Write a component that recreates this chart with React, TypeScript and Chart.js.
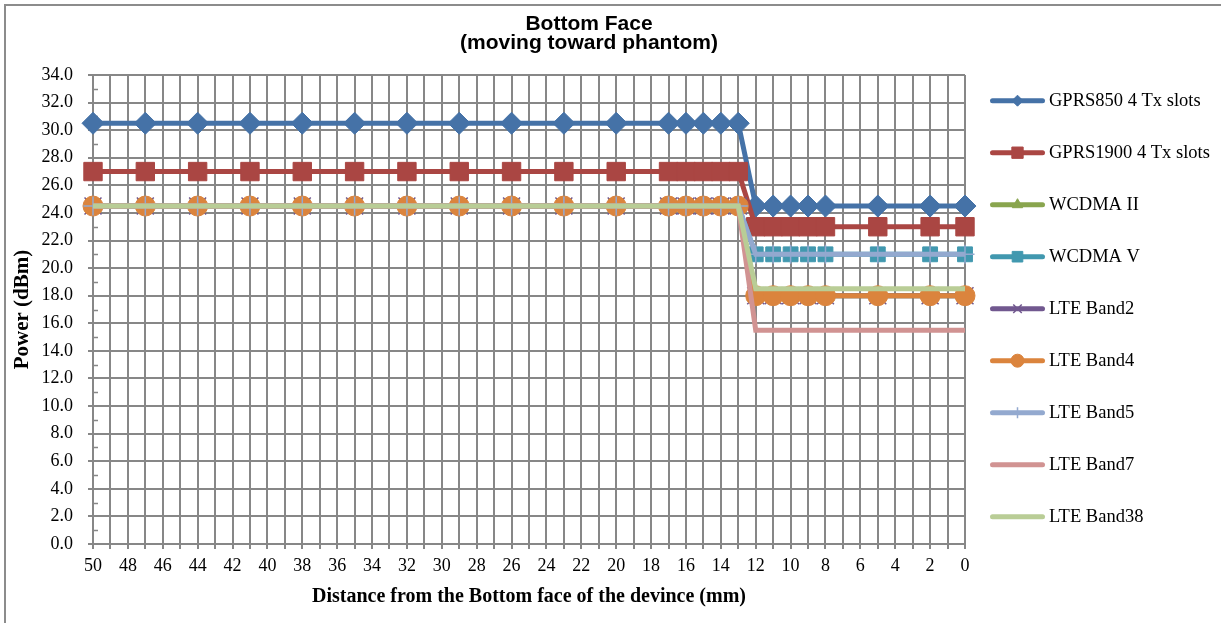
import React, { useEffect, useRef } from "react";
import { Chart, registerables } from "chart.js";
import { drawPoint } from "chart.js/helpers";

Chart.register(...registerables);

// ---------- data ----------
const distances = [50, 47, 44, 41, 38, 35, 32, 29, 26, 23, 20, 17, 16, 15, 14, 13, 12, 11, 10, 9, 8, 5, 2, 0];

const gprs850 = [30.5, 30.5, 30.5, 30.5, 30.5, 30.5, 30.5, 30.5, 30.5, 30.5, 30.5, 30.5, 30.5, 30.5, 30.5, 30.5, 24.5, 24.5, 24.5, 24.5, 24.5, 24.5, 24.5, 24.5];
const gprs1900 = [27.0, 27.0, 27.0, 27.0, 27.0, 27.0, 27.0, 27.0, 27.0, 27.0, 27.0, 27.0, 27.0, 27.0, 27.0, 27.0, 23.0, 23.0, 23.0, 23.0, 23.0, 23.0, 23.0, 23.0];
const wcdmaII = [24.5, 24.5, 24.5, 24.5, 24.5, 24.5, 24.5, 24.5, 24.5, 24.5, 24.5, 24.5, 24.5, 24.5, 24.5, 24.5, 18.0, 18.0, 18.0, 18.0, 18.0, 18.0, 18.0, 18.0];
const wcdmaV = [24.5, 24.5, 24.5, 24.5, 24.5, 24.5, 24.5, 24.5, 24.5, 24.5, 24.5, 24.5, 24.5, 24.5, 24.5, 24.5, 21.0, 21.0, 21.0, 21.0, 21.0, 21.0, 21.0, 21.0];
const lteBand2 = [24.5, 24.5, 24.5, 24.5, 24.5, 24.5, 24.5, 24.5, 24.5, 24.5, 24.5, 24.5, 24.5, 24.5, 24.5, 24.5, 18.0, 18.0, 18.0, 18.0, 18.0, 18.0, 18.0, 18.0];
const lteBand4 = [24.5, 24.5, 24.5, 24.5, 24.5, 24.5, 24.5, 24.5, 24.5, 24.5, 24.5, 24.5, 24.5, 24.5, 24.5, 24.5, 18.0, 18.0, 18.0, 18.0, 18.0, 18.0, 18.0, 18.0];
const lteBand5 = [24.5, 24.5, 24.5, 24.5, 24.5, 24.5, 24.5, 24.5, 24.5, 24.5, 24.5, 24.5, 24.5, 24.5, 24.5, 24.5, 21.0, 21.0, 21.0, 21.0, 21.0, 21.0, 21.0, 21.0];
const lteBand7 = [24.5, 24.5, 24.5, 24.5, 24.5, 24.5, 24.5, 24.5, 24.5, 24.5, 24.5, 24.5, 24.5, 24.5, 24.5, 24.5, 15.5, 15.5, 15.5, 15.5, 15.5, 15.5, 15.5, 15.5];
const lteBand38 = [24.5, 24.5, 24.5, 24.5, 24.5, 24.5, 24.5, 24.5, 24.5, 24.5, 24.5, 24.5, 24.5, 24.5, 24.5, 24.5, 18.5, 18.5, 18.5, 18.5, 18.5, 18.5, 18.5, 18.5];

const seriesLabels = [
  "GPRS850 4 Tx slots",
  "GPRS1900 4 Tx slots",
  "WCDMA II",
  "WCDMA V",
  "LTE Band2",
  "LTE Band4",
  "LTE Band5",
  "LTE Band7",
  "LTE Band38",
];
const seriesValues = [gprs850, gprs1900, wcdmaII, wcdmaV, lteBand2, lteBand4, lteBand5, lteBand7, lteBand38];

const titleLines = ["Bottom Face", "(moving toward phantom)"];
const xTitle = "Distance from the Bottom face of the devince (mm)";
const yTitle = "Power (dBm)";

// ---------- styles ----------
type Style = { color: string; point: string | false; radius: number; legendRadius: number; bw: number; fill: boolean };
const seriesStyles: Style[] = [
  { color: "#4572A7", point: "rectRot", radius: 11, legendRadius: 5.5, bw: 1, fill: true },
  { color: "#AA4643", point: "rect", radius: 13, legendRadius: 8, bw: 1, fill: true },
  { color: "#89A54E", point: "triangle", radius: 10, legendRadius: 6, bw: 1, fill: true },
  { color: "#4198AF", point: "rect", radius: 10.5, legendRadius: 7.5, bw: 1, fill: true },
  { color: "#71588F", point: "crossRot", radius: 12, legendRadius: 6, bw: 1.5, fill: false },
  { color: "#DB843D", point: "circle", radius: 10, legendRadius: 6.5, bw: 1, fill: true },
  { color: "#93A9CF", point: "cross", radius: 9.5, legendRadius: 5.5, bw: 1.5, fill: false },
  { color: "#D19392", point: false, radius: 0, legendRadius: 0, bw: 0, fill: false },
  { color: "#B9CD96", point: false, radius: 0, legendRadius: 0, bw: 0, fill: false },
];

const GRID = "#878787";
const SERIF = '"Liberation Serif", "Times New Roman", serif';
const SANS = '"Liberation Sans", Arial, sans-serif';
const W = 1221;
const H = 623;

Chart.defaults.font.family = SERIF;
Chart.defaults.color = "#000";

const decorPlugin = {
  id: "decor",
  beforeDraw(chart: any) {
    const ctx = chart.ctx;
    ctx.save();
    ctx.fillStyle = "#fff";
    ctx.fillRect(0, 0, chart.width, chart.height);
    ctx.strokeStyle = "#8c8c8c";
    ctx.lineWidth = 2;
    ctx.beginPath();
    ctx.moveTo(5, chart.height + 2);
    ctx.lineTo(5, 5);
    ctx.lineTo(chart.width + 2, 5);
    ctx.stroke();
    ctx.restore();
  },
  beforeDatasetsDraw(chart: any) {
    const ctx = chart.ctx;
    const y = chart.scales.y;
    const left = chart.chartArea.left;
    ctx.save();
    ctx.strokeStyle = GRID;
    ctx.lineWidth = 1.5;
    ctx.beginPath();
    for (let v = 1; v < 34; v += 2) {
      const py = Math.round(y.getPixelForValue(v)) + 0.5;
      ctx.moveTo(left, py);
      ctx.lineTo(left + 5, py);
    }
    ctx.stroke();
    ctx.restore();
  },
  afterDraw(chart: any) {
    const ctx = chart.ctx;
    ctx.save();
    // title
    ctx.fillStyle = "#000";
    ctx.font = `bold 21px ${SANS}`;
    ctx.textAlign = "center";
    ctx.textBaseline = "alphabetic";
    ctx.fillText(titleLines[0], 589, 30);
    ctx.fillText(titleLines[1], 589, 49);
    // legend
    const lx0 = chart.chartArea.right + 25;
    const lineLen = 55;
    const top = 100.7;
    const step = 52;
    seriesLabels.forEach((label, i) => {
      const st = seriesStyles[i];
      const yy = top + i * step;
      ctx.strokeStyle = st.color;
      ctx.lineWidth = 5;
      ctx.lineCap = "round";
      ctx.beginPath();
      ctx.moveTo(lx0 + 2.5, yy);
      ctx.lineTo(lx0 + lineLen - 2.5, yy);
      ctx.stroke();
      if (st.point) {
        ctx.fillStyle = st.color;
        ctx.strokeStyle = st.color;
        ctx.lineWidth = st.bw;
        ctx.lineCap = "butt";
        drawPoint(ctx, { pointStyle: st.point as any, radius: st.legendRadius, rotation: 0, borderWidth: st.bw }, lx0 + lineLen / 2, yy);
      }
      ctx.fillStyle = "#000";
      ctx.font = `18.5px ${SERIF}`;
      ctx.textAlign = "left";
      ctx.textBaseline = "middle";
      ctx.fillText(label, lx0 + lineLen + 4, yy);
    });
    ctx.restore();
  },
};

export default function App() {
  const canvasRef = useRef<HTMLCanvasElement | null>(null);

  useEffect(() => {
    if (!canvasRef.current) return;
    const n = seriesLabels.length;
    const datasets = seriesLabels.map((label, i) => {
      const st = seriesStyles[i];
      return {
        label,
        data: distances.map((d, k) => ({ x: d, y: seriesValues[i][k] })),
        borderColor: st.color,
        backgroundColor: st.color,
        borderWidth: 5,
        tension: 0,
        fill: false,
        clip: false as any,
        order: n - i,
        pointStyle: (st.point || "circle") as any,
        pointRadius: st.point ? st.radius : 0,
        pointBorderWidth: st.bw,
        pointBackgroundColor: st.color,
        pointBorderColor: st.color,
        pointHoverRadius: st.point ? st.radius : 0,
      };
    });

    const chart = new Chart(canvasRef.current, {
      type: "line",
      data: { datasets },
      plugins: [decorPlugin],
      options: {
        responsive: false,
        maintainAspectRatio: false,
        animation: false,
        events: [],
        layout: { padding: { left: 5, top: 75, right: 256, bottom: 0 } },
        plugins: {
          legend: { display: false },
          title: { display: false },
          tooltip: { enabled: false },
        },
        scales: {
          x: {
            type: "linear",
            reverse: true,
            min: 0,
            max: 50,
            afterFit: (s: any) => {
              s.height = 79;
            },
            ticks: {
              stepSize: 1,
              autoSkip: false,
              maxRotation: 0,
              minRotation: 0,
              padding: 6,
              color: "#000",
              font: { size: 18, family: SERIF },
              callback: (v: any) => (Math.round(Number(v)) % 2 === 0 ? String(Math.round(Number(v))) : ""),
            },
            grid: { color: GRID, lineWidth: 2, tickLength: 5, tickColor: GRID, drawTicks: true },
            border: { color: GRID, width: 2 },
            title: {
              display: true,
              text: xTitle,
              color: "#000",
              font: { size: 20, weight: "bold", family: SERIF },
              padding: { top: 0, bottom: 14 },
            },
          },
          y: {
            type: "linear",
            min: 0,
            max: 34,
            afterFit: (s: any) => {
              s.width = 88;
            },
            ticks: {
              stepSize: 2,
              padding: 15,
              color: "#000",
              font: { size: 18, family: SERIF },
              callback: (v: any) => Number(v).toFixed(1),
            },
            grid: { color: GRID, lineWidth: 2, tickLength: 5, tickColor: GRID, drawTicks: true },
            border: { color: GRID, width: 2 },
            title: {
              display: true,
              text: yTitle,
              color: "#000",
              font: { size: 21, weight: "bold", family: SERIF },
              padding: { top: 5, bottom: 0 },
            },
          },
        },
      } as any,
    });
    return () => chart.destroy();
  }, []);

  return (
    <div style={{ position: "fixed", left: 0, top: 0, width: W, height: H, background: "#fff" }}>
      <canvas ref={canvasRef} width={W} height={H} style={{ display: "block", width: W, height: H }} />
    </div>
  );
}
